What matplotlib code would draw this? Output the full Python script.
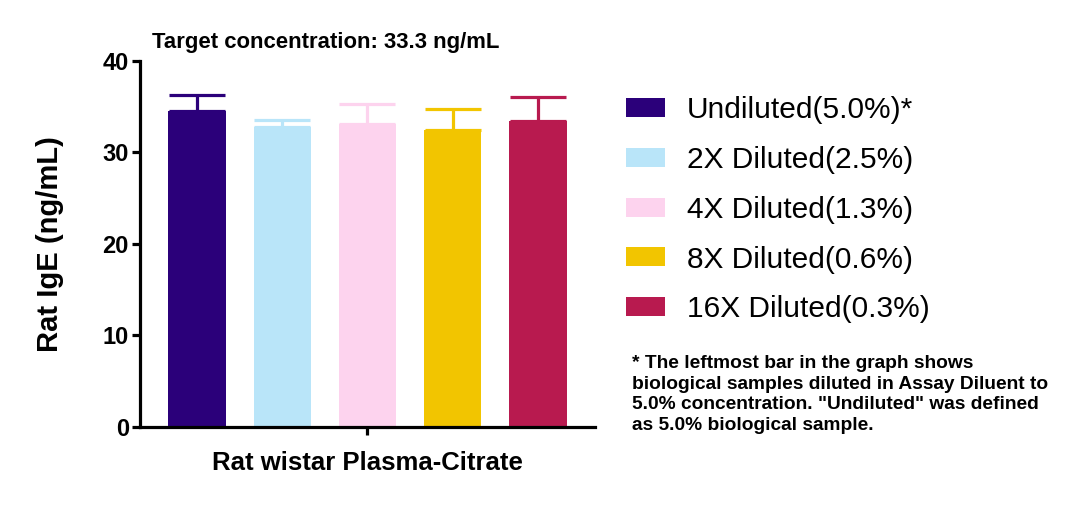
import matplotlib.pyplot as plt
from matplotlib.patches import Patch

plt.rcParams['font.family'] = ['Liberation Sans', 'DejaVu Sans']

groups = ['Undiluted(5.0%)*', '2X Diluted(2.5%)', '4X Diluted(1.3%)',
          '8X Diluted(0.6%)', '16X Diluted(0.3%)']
means = [34.5, 32.75, 33.1, 32.45, 33.4]
upper_err = [1.8, 0.75, 2.2, 2.3, 2.6]
colors = ['#2B007A', '#B9E5F9', '#FDD3EE', '#F2C500', '#B81A4F']

title = 'Target concentration: 33.3 ng/mL'
xlabel = 'Rat wistar Plasma-Citrate'
ylabel = 'Rat IgE (ng/mL)'
yticks = [0, 10, 20, 30, 40]
note = ('* The leftmost bar in the graph shows\n'
        'biological samples diluted in Assay Diluent to\n'
        '5.0% concentration. "Undiluted" was defined\n'
        'as 5.0% biological sample.')

fig = plt.figure(figsize=(10.81, 5.07), dpi=100)
ax = fig.add_axes([0.1295, 0.1578, 0.4209, 0.7225])

x = list(range(len(means)))
ax.bar(x, means, width=0.67, color=colors, zorder=2)
for xi, m, e, c in zip(x, means, upper_err, colors):
    ax.errorbar(xi, m, yerr=[[0], [e]], fmt='none', ecolor=c,
                elinewidth=2.3, capsize=20, capthick=2.3, zorder=1)

ax.set_xlim(-0.668, 4.668)
ax.set_ylim(0, 40)
ax.set_yticks(yticks)
ax.set_xticks([2])
ax.set_xticklabels([''])
for s in ['top', 'right']:
    ax.spines[s].set_visible(False)
for s in ['left', 'bottom']:
    ax.spines[s].set_linewidth(2.3)
ax.tick_params(axis='both', width=2.3, length=6, labelsize=17, pad=2)
for lab in ax.get_yticklabels():
    lab.set_fontweight('bold')

ax.set_ylabel(ylabel, fontsize=21, fontweight='bold', labelpad=28)
ax.set_xlabel(xlabel, fontsize=18.5, fontweight='bold', labelpad=9)
fig.text(0.301, 0.917, title, fontsize=15.9, fontweight='bold',
         ha='center', va='center')

handles = [Patch(facecolor=c, edgecolor='none') for c in colors]
fig.legend(handles, groups, loc='upper left', bbox_to_anchor=(0.568, 0.834),
           frameon=False, fontsize=21.5, handlelength=1.3, handleheight=0.6,
           handletextpad=0.74, labelspacing=0.73, borderaxespad=0)

fig.text(0.585, 0.222, note, fontsize=13.8, fontweight='bold',
         ha='left', va='center', linespacing=1.28)

fig.savefig('out.png', dpi=100)
